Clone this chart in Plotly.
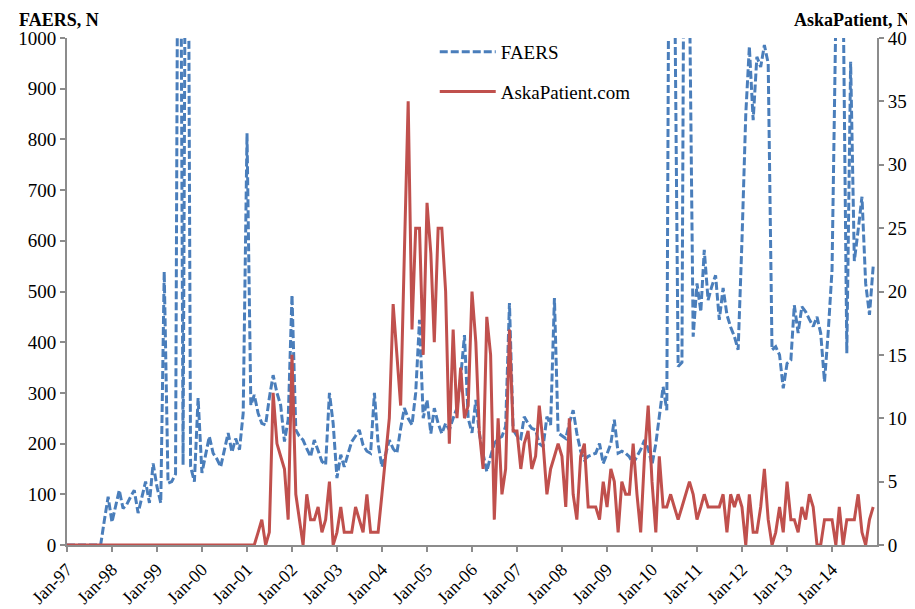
import pandas as pd
import plotly.graph_objects as go

# Monthly data, Jan-1997 .. Dec-2014 (one row per year)
faers = (
    [0, 0, 0, 0, 0, 0, 0, 0, 0, 0, 50, 95] +                    # 1997
    [45, 75, 108, 72, 80, 95, 108, 63, 95, 125, 83, 161] +        # 1998
    [115, 83, 539, 122, 125, 140, 2000, 158, 2000, 155, 125, 290] +  # 1999
    [142, 180, 214, 181, 170, 154, 190, 221, 183, 210, 188, 260] +   # 2000
    [812, 276, 296, 260, 240, 237, 290, 335, 300, 276, 204, 247] +   # 2001
    [493, 227, 215, 207, 190, 174, 207, 185, 165, 158, 300, 240] +   # 2002
    [132, 178, 154, 180, 204, 215, 227, 197, 185, 181, 300, 200] +   # 2003
    [154, 180, 207, 190, 181, 230, 270, 250, 237, 300, 444, 250] +   # 2004
    [286, 220, 270, 240, 220, 240, 227, 250, 270, 330, 414, 250] +   # 2005
    [221, 286, 221, 180, 145, 175, 200, 210, 214, 234, 477, 227] +   # 2006
    [215, 210, 253, 240, 230, 227, 200, 194, 253, 237, 487, 221] +   # 2007
    [215, 210, 240, 266, 220, 185, 168, 175, 178, 181, 200, 161] +   # 2008
    [180, 200, 247, 181, 185, 181, 174, 161, 175, 188, 207, 190] +   # 2009
    [158, 200, 253, 312, 266, 2000, 1200, 352, 360, 2000, 1100, 411] +  # 2010
    [516, 460, 582, 483, 510, 532, 444, 507, 454, 430, 411, 385] +   # 2011
    [600, 850, 983, 838, 963, 943, 986, 950, 385, 391, 375, 309] +   # 2012
    [358, 365, 473, 418, 470, 460, 445, 431, 450, 418, 322, 420] +   # 2013
    [542, 1200, 1500, 1100, 378, 953, 560, 621, 687, 516, 454, 549]  # 2014
)

askapatient = (
    [0] * 12 +                                      # 1997
    [0] * 12 +                                      # 1998
    [0] * 12 +                                      # 1999
    [0] * 12 +                                      # 2000
    [0, 0, 0, 1, 2, 0, 1, 12, 8, 7, 6, 2] +         # 2001
    [15, 4, 2, 0, 4, 2, 2, 3, 1, 2, 5, 0] +         # 2002
    [1, 3, 1, 1, 1, 3, 2, 1, 4, 1, 1, 1] +          # 2003
    [4, 7, 10, 19, 15, 11, 23, 35, 17, 25, 25, 15] +  # 2004
    [27, 23, 16, 25, 25, 20, 8, 17, 10, 14, 10, 11] +  # 2005
    [20, 16, 9, 6, 18, 15, 2, 10, 4, 6, 17, 9] +    # 2006
    [9, 6, 8, 9, 6, 7, 11, 8, 4, 6, 7, 8] +         # 2007
    [7, 3, 10, 4, 2, 7, 8, 3, 3, 3, 2, 5] +         # 2008
    [3, 6, 5, 1, 5, 4, 4, 8, 4, 1, 7, 11] +         # 2009
    [5, 1, 7, 3, 3, 4, 3, 2, 3, 4, 5, 4] +          # 2010
    [2, 3, 4, 3, 3, 3, 3, 4, 1, 4, 3, 4] +          # 2011
    [3, 0, 4, 1, 1, 3, 6, 2, 0, 1, 3, 1] +          # 2012
    [5, 2, 2, 1, 3, 2, 4, 3, 0, 0, 2, 2] +          # 2013
    [2, 0, 3, 0, 2, 2, 2, 4, 1, 0, 2, 3]            # 2014
)

months = pd.date_range("1997-01-01", periods=len(faers), freq="MS")
tick_years = list(range(1997, 2015))
tick_vals = [f"{y}-01-01" for y in tick_years]
tick_text = [f"Jan-{str(y)[2:]}" for y in tick_years]

FONT = "Liberation Serif, Times New Roman, serif"
AXIS = "#8c8c8c"
TF = dict(family=FONT, size=19, color="black")

fig = go.Figure()
fig.add_trace(go.Scatter(
    x=months, y=faers, name="FAERS", mode="lines",
    line=dict(color="#4A7EBB", width=3, dash="8px,3px"),
    legendgroup="a", yaxis="y"))
fig.add_trace(go.Scatter(
    x=months, y=askapatient, name="AskaPatient.com", mode="lines",
    line=dict(color="#C0504D", width=3),
    legendgroup="b", yaxis="y2"))

common = dict(showgrid=False, zeroline=False, showline=True, linecolor=AXIS,
              linewidth=2, ticks="outside", ticklen=5, tickcolor=AXIS,
              tickwidth=1.5, tickfont=TF, automargin=False)

# page has an 8px body margin, so the figure is drawn 8px smaller
fig.update_layout(
    width=907, height=601,
    margin=dict(l=59, r=38, t=30, b=64, autoexpand=False),
    paper_bgcolor="white", plot_bgcolor="white",
    font=dict(family=FONT, size=19, color="black"),
    showlegend=True,
    legend=dict(x=0.454, y=1.01, xanchor="left", yanchor="top",
                bgcolor="rgba(0,0,0,0)", traceorder="grouped",
                tracegroupgap=12, itemwidth=56, font=TF),
    xaxis=dict(range=["1997-01-01", "2015-01-01"], tickvals=tick_vals,
               ticktext=tick_text, tickangle=-45,
               **{**common, "tickfont": dict(family=FONT, size=18, color="black")}),
    yaxis=dict(range=[0, 1000], dtick=100, **common),
    yaxis2=dict(range=[0, 40], dtick=5, overlaying="y", side="right",
                **common),
    annotations=[
        dict(text="<b>FAERS, N</b>", xref="paper", yref="paper",
             x=-0.062, y=1.0355, xanchor="left", yanchor="middle",
             showarrow=False, font=dict(family=FONT, size=18)),
        dict(text="<b>AskaPatient, N</b>", xref="paper", yref="paper",
             x=1.043, y=1.0355, xanchor="right", yanchor="middle",
             showarrow=False, font=dict(family=FONT, size=18)),
    ],
)

fig.write_html("out.html")
